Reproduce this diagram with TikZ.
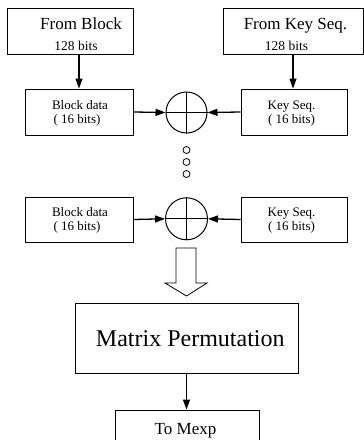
\documentclass[tikz,border=0pt]{standalone}
\usepackage{fontspec}
\setmainfont{Liberation Serif}
\usetikzlibrary{arrows.meta}
\begin{document}
\begin{tikzpicture}[x=1pt,y=-1pt,
  box/.style={draw,line width=0.9pt,inner sep=0pt,minimum height=46pt},
  xorc/.style={draw,circle,line width=1pt,inner sep=0pt,minimum size=41pt},
  dotc/.style={draw,circle,line width=0.8pt,inner sep=0pt,minimum size=7pt},
  arr/.style={line width=1.3pt,-{Triangle[length=10pt,width=7pt]}},
  txt/.style={inner sep=0pt,anchor=base}]
\useasboundingbox (0,0) rectangle (364,440);
\clip (0,0) rectangle (364,440);
% top boxes
\node[box,minimum width=126pt] (fb) at (70,31) {};
\node[box,minimum width=140pt] (fk) at (293,31) {};
\node[txt,font=\fontsize{17}{20}\selectfont] (fbt) at (81,29.3) {From Block};
\node[txt,font=\fontsize{13.5}{16}\selectfont] (fbb) at (76,50) {128 bits};
\node[txt,font=\fontsize{17}{20}\selectfont] (fkt) at (295.5,29.3) {From Key Seq.};
\node[txt,font=\fontsize{13.5}{16}\selectfont] (fkb) at (286.5,50) {128 bits};
% first row
\node[box,minimum width=108pt] (bd1) at (79,112) {};
\node[box,minimum width=106pt] (ks1) at (294,112) {};
\node[txt,font=\fontsize{13}{15}\selectfont] (bd1a) at (80,109.3) {Block data};
\node[txt,font=\fontsize{13}{15}\selectfont] (bd1b) at (77,123) {( 16 bits)};
\node[txt,font=\fontsize{13}{15}\selectfont] (ks1a) at (291.5,109.3) {Key Seq.};
\node[txt,font=\fontsize{13}{15}\selectfont] (ks1b) at (291.5,123) {( 16 bits)};
\node[xorc] (x1) at (186.5,112.5) {};
\draw[line width=1pt] (x1.north) -- (x1.south) (x1.west) -- (x1.east);
% dots
\node[dotc] (d1) at (186.5,150) {};
\node[dotc] (d2) at (186.5,162) {};
\node[dotc] (d3) at (186.5,174) {};
% second row
\node[box,minimum width=108pt,minimum height=45pt] (bd2) at (79,219.5) {};
\node[box,minimum width=106pt,minimum height=45pt] (ks2) at (294,219.5) {};
\node[txt,font=\fontsize{13}{15}\selectfont] (bd2a) at (80,216.3) {Block data};
\node[txt,font=\fontsize{13}{15}\selectfont] (bd2b) at (77,230) {( 16 bits)};
\node[txt,font=\fontsize{13}{15}\selectfont] (ks2a) at (291.5,216.3) {Key Seq.};
\node[txt,font=\fontsize{13}{15}\selectfont] (ks2b) at (291.5,230) {( 16 bits)};
\node[xorc,minimum size=42pt] (x2) at (186.5,218.8) {};
\draw[line width=1pt] (x2.north) -- (x2.south) (x2.west) -- (x2.east);
% matrix permutation and output
\node[box,minimum width=223.5pt,minimum height=70.5pt,
  font=\fontsize{24}{28}\selectfont] (mp) at (186.75,338.25) {};
\node[txt,font=\fontsize{24}{28}\selectfont] (mpt) at (190.3,346.7) {Matrix Permutation};
\node[box,minimum width=144pt,minimum height=60pt] (tm) at (187,440) {};
\node[txt,font=\fontsize{17}{20}\selectfont] (tmt) at (185.5,434.5) {To Mexp};
% hollow arrow
\draw[line width=0.8pt,fill=white] (176,248) -- (196,248) -- (196,283) -- (207,283)
  -- (186.5,296) -- (165,283) -- (176,283) -- cycle;
% connectors
\draw[arr] (bd1.north |- fb.south) -- (bd1.north);
\draw[arr] (fk.south) -- (fk.south |- ks1.north);
\draw[arr] (bd1.east) -- (x1.west);
\draw[arr] (ks1.west) -- (x1.east);
\draw[arr] (bd2.east) -- (x2.west);
\draw[arr] (ks2.west) -- (x2.east);
\draw[arr] (mp.south -| x1.south) -- (tm.north -| x1.south);
\end{tikzpicture}
\end{document}
